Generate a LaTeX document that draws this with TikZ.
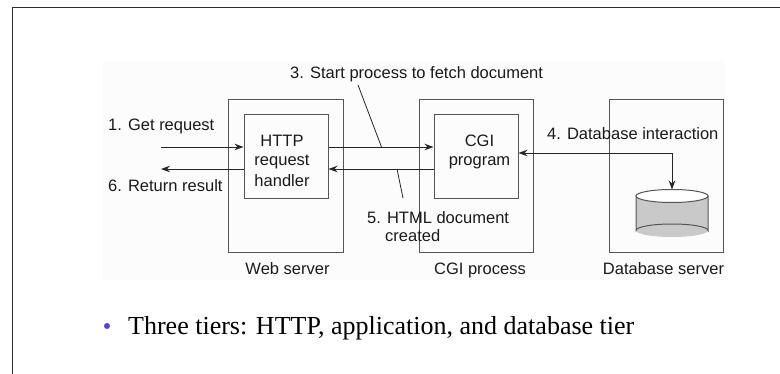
\documentclass[tikz,border=0pt]{standalone}
\usepackage{fontspec}
\setmainfont{Liberation Sans}
\newfontfamily\bulletfont{Liberation Serif}
\usetikzlibrary{arrows.meta,calc}
\definecolor{framec}{HTML}{2E2E2E}
\definecolor{boxc}{HTML}{555555}
\definecolor{linec}{HTML}{262626}
\definecolor{txtc}{HTML}{1A1A1A}
\definecolor{bgc}{HTML}{FCFCFC}
\definecolor{cylc}{HTML}{C9C9C9}
\definecolor{bulc}{HTML}{5A3FE0}
\tikzset{
  box/.style={draw=boxc, line width=1pt, inner sep=0pt},
  lbl/.style={font=\fontsize{16.5}{20}\selectfont, text=txtc, inner sep=0pt, anchor=base west},
  clbl/.style={font=\fontsize{16.5}{20}\selectfont, text=txtc, inner sep=0pt, anchor=base},
  tip/.style={Stealth[length=9pt,width=6.5pt]},
  arr/.style={draw=linec, line width=0.9pt, -{Stealth[length=9pt,width=6.5pt]}},
  lead/.style={draw=linec, line width=0.8pt},
}
\begin{document}
\begin{tikzpicture}[x=1pt,y=-1pt]
\useasboundingbox (0,0) rectangle (780,374);
% frame and background
\fill[bgc] (103,61) rectangle (725,280);
\draw[framec, line width=1.5pt] (12.5,374) -- (12.5,7.5) -- (780,7.5);
% outer boxes
\node[box, minimum width=115pt, minimum height=153pt] (web) at (285.5,176.5) {};
\node[box, minimum width=114pt, minimum height=153pt] (cgip) at (476,176.5) {};
\node[box, minimum width=114pt, minimum height=153pt] (dbs) at (666,176.5) {};
% inner boxes
\node[box, minimum width=84pt, minimum height=84pt] (http) at (286,157) {};
\node[box, minimum width=84pt, minimum height=84pt] (cgi) at (476,157) {};
% inner texts
\node[clbl] (h1) at (282,146.7) {HTTP};
\node[clbl] (h2) at (282,166) {request};
\node[clbl] (h3) at (282,186.7) {handler};
\node[clbl] (c1) at (479.5,146.7) {CGI};
\node[clbl] (c2) at (479.5,166) {program};
% cylinder
\fill[cylc] (636,196) rectangle (708,230.5);
\fill[cylc] (672,230.5) ellipse[x radius=36pt, y radius=6.5pt];
\draw[boxc, line width=1pt] (636,196) -- (636,230.5)
   arc[start angle=180, end angle=360, x radius=36pt, y radius=-6.5pt] -- (708,196);
\draw[boxc, line width=1pt, fill=white] (672,196) ellipse[x radius=36pt, y radius=6.5pt];
\coordinate (dbtop) at (672,189.5);
% labels
\node[lbl] (l1) at (108,131) {1. Get request};
\node[lbl] (l6) at (108,191.5) {6. Return result};
\node[lbl] (l3) at (290,78.3) {3. Start process to fetch document};
\node[lbl] (l4) at (547,140) {4. Database interaction};
\node[lbl] (l5a) at (367,223.3) {5. HTML document};
\node[lbl] (l5b) at (385,241.7) {created};
\node[clbl] (tw) at (287.5,275) {Web server};
\node[clbl] (tc) at (480,275) {CGI process};
\node[clbl] (td) at (663.5,275) {Database server};
% arrows
\coordinate (in1) at (161,147);
\coordinate (out6) at (161,169);
\draw[arr] (in1) -- (http.west |- in1);
\draw[arr] (http.west |- out6) -- (out6);
\draw[arr] (http.east |- in1) -- (cgi.west |- in1);
\draw[arr] (cgi.west |- out6) -- (http.east |- out6);
\coordinate (dbrow) at (518,153);
\draw[draw=linec, line width=0.9pt, {Stealth[length=9pt,width=6.5pt]}-{Stealth[length=9pt,width=6.5pt]}]
  (cgi.east |- dbrow) -- (dbtop |- dbrow) -- (dbtop);
% leader lines
\coordinate (p3a) at (358,85);
\coordinate (p3b) at (381.5,147);
\coordinate (p5a) at (397,169);
\coordinate (p5b) at (403,198);
\draw[lead] (p3a) -- (p3b);
\draw[lead] (p5a) -- (p5b);
% bullet
\fill[bulc] (107,326) circle[radius=3pt];
\node[font=\bulletfont\fontsize{26}{30}\selectfont, text=black, inner sep=0pt, anchor=base west] (bt) at (128,335) {Three tiers: HTTP, application, and database tier};
\end{tikzpicture}
\end{document}
